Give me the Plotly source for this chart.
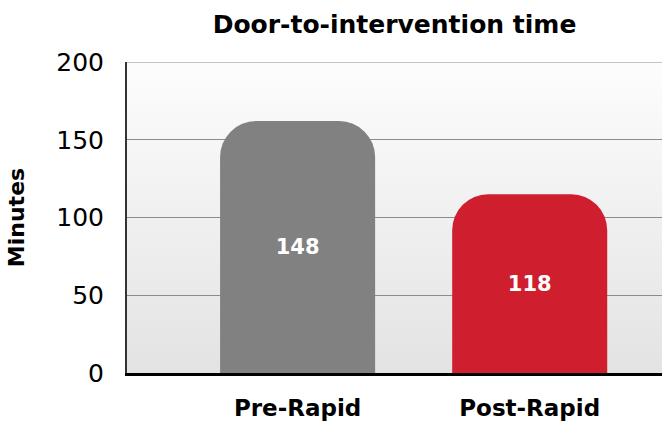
import base64
import plotly.graph_objects as go

categories = ["Pre-Rapid", "Post-Rapid"]
bar_heights = [162, 115]          # heights as drawn in the reference (minutes)
bar_labels = ["148", "118"]       # values printed on the bars
bar_colors = ["#818181", "#CF1F2F"]
y_ticks = [0, 50, 100, 150, 200]

FONT = "DejaVu Sans"
GRID = "#8c8c8c"

svg = ('<svg xmlns="http://www.w3.org/2000/svg" width="10" height="100" viewBox="0 0 10 100" '
       'preserveAspectRatio="none"><defs><linearGradient id="g" x1="0" y1="0" x2="0" y2="1">'
       '<stop offset="0" stop-color="#fdfdfd"/><stop offset="1" stop-color="#e3e3e3"/>'
       '</linearGradient></defs><rect width="10" height="100" fill="url(#g)"/></svg>')
bg_src = "data:image/svg+xml;base64," + base64.b64encode(svg.encode()).decode()

fig = go.Figure(go.Bar(
    x=categories, y=bar_heights, text=bar_labels,
    marker=dict(color=bar_colors, cornerradius=36, line=dict(width=0)),
    width=0.668, textposition="inside", insidetextanchor="middle",
    textfont=dict(family=FONT, size=21, color="white", weight="bold"),
    textangle=0, hoverinfo="skip",
))

fig.update_layout(
    width=662, height=421,
    margin=dict(l=127, r=0, t=62, b=43),
    paper_bgcolor="white", plot_bgcolor="rgba(0,0,0,0)",
    showlegend=False,
    title=dict(text="<b>Door-to-intervention time</b>", x=0.5, xref="paper", xanchor="center",
               y=0.943, yref="container", yanchor="middle",
               font=dict(family=FONT, size=25, color="black")),
    images=[dict(source=bg_src, xref="paper", yref="paper", x=0, y=1, sizex=1, sizey=1,
                 xanchor="left", yanchor="top", sizing="stretch", layer="below")],
    shapes=[dict(type="line", xref="paper", x0=0, x1=1, yref="y", y0=y_ticks[-1], y1=y_ticks[-1],
                 line=dict(color=GRID, width=1), layer="below")],
    xaxis=dict(range=[-0.735, 1.57], showgrid=False, showline=True, linecolor="black",
               linewidth=3, ticks="outside", ticklen=12, tickcolor="rgba(0,0,0,0)",
               tickfont=dict(family=FONT, size=23, color="black", weight="bold"),
               fixedrange=True),
    yaxis=dict(range=[0, 200], tickvals=y_ticks, showgrid=True, gridcolor=GRID,
               gridwidth=1, showline=True, linecolor="#333333", linewidth=2,
               ticks="outside", ticklen=16, tickcolor="rgba(0,0,0,0)",
               tickfont=dict(family=FONT, size=25, color="black"),
               zeroline=False,
               title=dict(text="<b>Minutes</b>", standoff=26,
                          font=dict(family=FONT, size=22, color="black")),
               fixedrange=True),
)

fig.write_html("out.html", config={"displayModeBar": False},
               post_script="document.body.style.margin='0';")
